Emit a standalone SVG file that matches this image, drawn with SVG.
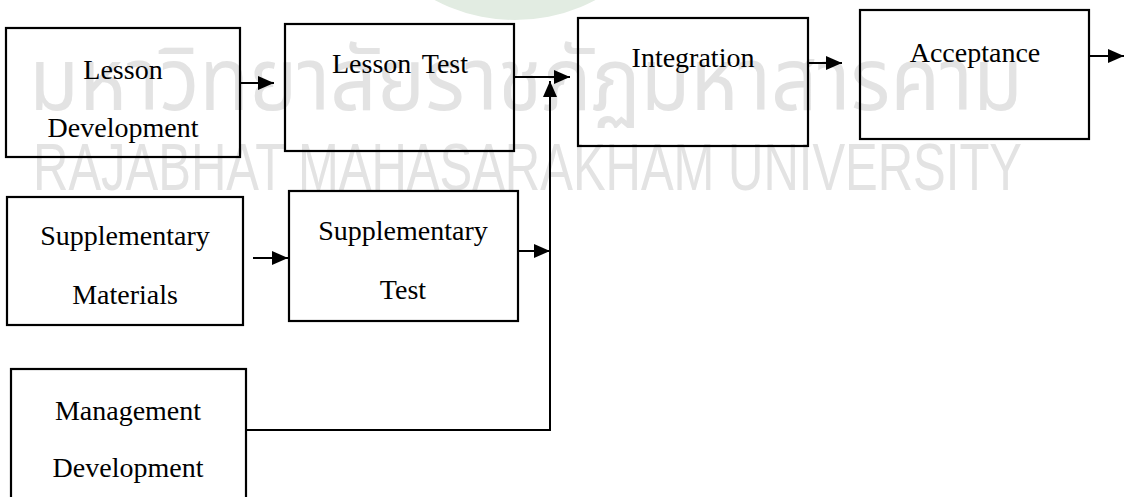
<svg xmlns="http://www.w3.org/2000/svg" width="1133" height="497" viewBox="0 0 1133 497">
<style>
.box{fill:none;stroke:#000;stroke-width:2.2}
.lbl{font-family:"Liberation Serif","Times New Roman",serif;font-size:28px;fill:#000;text-anchor:middle}
.wm{fill:#e3e3e3}
.con{fill:none;stroke:#000;stroke-width:2}
</style>
<defs>
<marker id="ah" markerUnits="userSpaceOnUse" markerWidth="16" markerHeight="14" refX="16" refY="7" orient="auto">
<path d="M0,0 L16,7 L0,14 Z" fill="#000"/>
</marker>
</defs>
<rect width="1133" height="497" fill="#fff"/>
<g id="watermark">
<circle cx="515" cy="-152" r="172" fill="#e2ece2"/>
<text class="wm" x="29" y="110" textLength="994" lengthAdjust="spacingAndGlyphs" font-family="'Noto Sans Thai','Noto Sans','DejaVu Sans',sans-serif" font-size="88">มหาวิทยาลัยราชภัฏมหาสารคาม</text>
<text class="wm" x="33" y="190" textLength="989" lengthAdjust="spacingAndGlyphs" font-family="'Liberation Sans',Arial,sans-serif" font-size="66">RAJABHAT MAHASARAKHAM UNIVERSITY</text>
</g>
<g id="connectors">
<path class="con" d="M240,83 H274" marker-end="url(#ah)"/>
<path class="con" d="M514,77 H570" marker-end="url(#ah)"/>
<path class="con" d="M808,63 H842" marker-end="url(#ah)"/>
<path class="con" d="M1089,56 H1124" marker-end="url(#ah)"/>
<path class="con" d="M253,258 H288" marker-end="url(#ah)"/>
<path class="con" d="M518,251 H550" marker-end="url(#ah)"/>
<path class="con" d="M246,430 H550 V81" marker-end="url(#ah)"/>
</g>
<g id="lesson-development">
<rect class="box" x="6" y="28" width="234" height="129"/>
<text class="lbl" x="123" y="79">Lesson</text>
<text class="lbl" x="123" y="137">Development</text>
</g>
<g id="lesson-test">
<rect class="box" x="285" y="24" width="229" height="127"/>
<text class="lbl" x="400" y="73" word-spacing="4">Lesson Test</text>
</g>
<g id="integration">
<rect class="box" x="578" y="18" width="230" height="128"/>
<text class="lbl" x="693" y="67">Integration</text>
</g>
<g id="acceptance">
<rect class="box" x="860" y="10" width="229" height="129"/>
<text class="lbl" x="975" y="62">Acceptance</text>
</g>
<g id="supplementary-materials">
<rect class="box" x="7" y="197" width="236" height="128"/>
<text class="lbl" x="125" y="245">Supplementary</text>
<text class="lbl" x="125" y="304">Materials</text>
</g>
<g id="supplementary-test">
<rect class="box" x="289" y="191" width="229" height="130"/>
<text class="lbl" x="403" y="240">Supplementary</text>
<text class="lbl" x="403" y="299">Test</text>
</g>
<g id="management-development">
<rect class="box" x="11" y="369" width="235" height="130"/>
<text class="lbl" x="128" y="420">Management</text>
<text class="lbl" x="128" y="477">Development</text>
</g>
</svg>
